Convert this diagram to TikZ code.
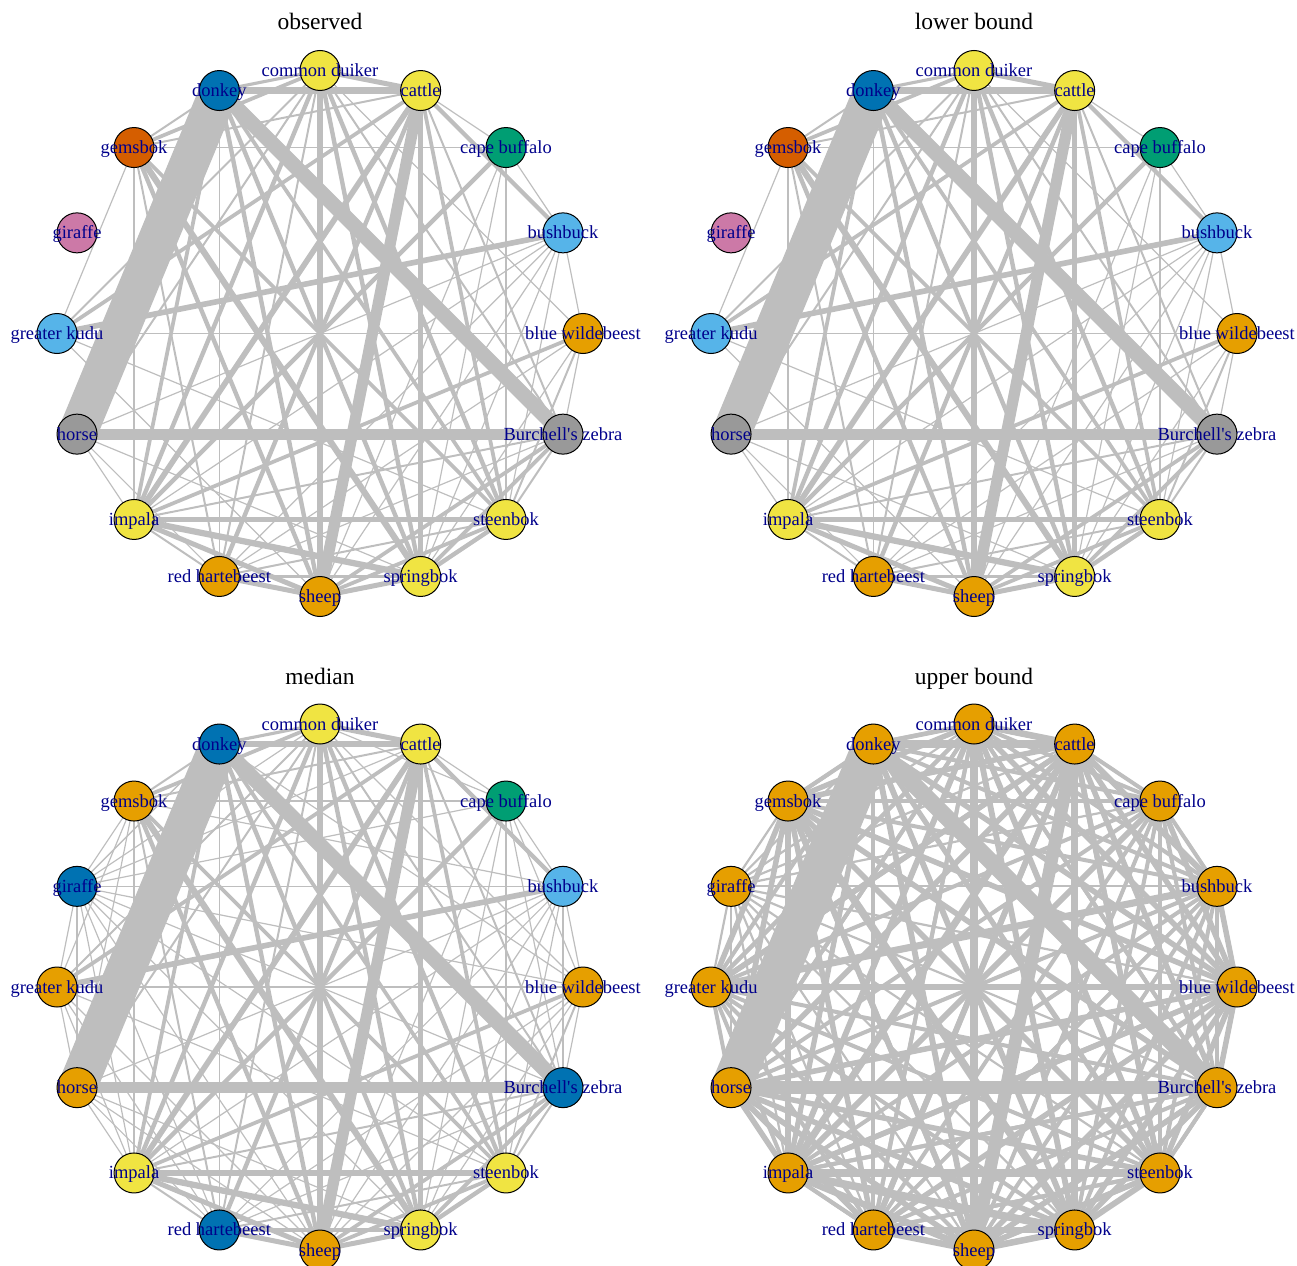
\documentclass[tikz,border=0pt]{standalone}
\usepackage{fontspec}
\setmainfont{Liberation Serif}
\definecolor{edgegray}{HTML}{BEBEBE}
\definecolor{cO}{HTML}{E69F00}
\definecolor{cS}{HTML}{56B4E9}
\definecolor{cG}{HTML}{009E73}
\definecolor{cY}{HTML}{F0E442}
\definecolor{cB}{HTML}{0072B2}
\definecolor{cV}{HTML}{D55E00}
\definecolor{cP}{HTML}{CC79A7}
\definecolor{cR}{HTML}{999999}
\definecolor{labblue}{HTML}{00008B}
\pgfdeclarelayer{bg}
\pgfsetlayers{bg,main}
\newcommand\spname[1]{\ifcase#1 blue wildebeest\or bushbuck\or cape buffalo\or cattle\or common duiker\or donkey\or gemsbok\or giraffe\or greater kudu\or horse\or impala\or red hartebeest\or sheep\or springbok\or steenbok\or Burchell\textquotesingle s zebra\fi}
\newcommand\obsedges{5/9/31, 5/15/12, 9/15/9, 3/12/9,
3/5/5, 3/4/4, 4/5/2.5, 4/12/4.5, 3/13/4.5, 10/14/4.5, 10/13/5, 12/13/4, 10/12/4, 11/12/4, 1/8/4.5, 6/13/5, 5/13/3.5, 5/12/3.5, 4/10/3.5, 4/13/3.5, 3/10/4.5, 3/11/3.5, 2/10/3.5, 1/3/3.5, 4/14/3.5, 5/14/3, 6/12/3.5, 3/8/3, 4/8/2, 13/15/3, 14/15/2, 0/14/2, 0/10/3, 0/11/1.2, 0/15/1.2, 0/1/1.2, 1/2/1.2, 2/3/1.2, 1/14/1.2, 1/13/1.2, 1/12/1.2, 1/11/1.2, 1/10/1.2, 2/13/1.2, 2/12/1.2, 2/6/1.2, 0/8/1.5, 6/8/1.2, 6/10/2, 9/10/1.2, 9/13/1.2, 9/11/1.2, 11/13/3, 11/14/2, 12/14/3, 13/14/3.5, 10/11/2, 4/6/3, 5/6/2, 5/10/3, 5/11/1.2, 4/11/2, 4/15/2, 3/15/2, 3/14/3, 6/14/3, 8/14/1.2, 10/15/2, 12/15/3, 11/15/1.2, 0/4/1.2, 8/12/1.2, 1/9/1.2, 3/6/2, 6/11/2, 2/14/1.2, 0/13/1.2, 4/9/2}
\newcommand\medextra{7/0/1.2, 7/1/1.2, 7/2/1.2, 7/3/1.2, 7/4/1.2, 7/5/1.5, 7/6/1.2, 7/8/1.2, 7/9/1.2, 7/10/1.2, 7/11/1.2, 7/12/1.2, 7/13/1.2, 7/14/1.2, 7/15/1.2, 8/9/1.2, 8/10/1.2, 8/11/1.2, 9/12/1.2, 6/9/1.2, 0/5/1.2, 1/6/1.2, 2/4/1.2, 0/12/1.2, 2/15/1.2, 1/15/1.5, 0/2/1.2}
% #1 prefix, #2 cx, #3 cy, #4 colour list
\newcommand\pnodes[4]{%
  \foreach \col [count=\i from 0] in {#4} {
    \node[spnode, fill=\col] (#1-\i) at ({#2+263*cos(\i*22.5)},{#3-263*sin(\i*22.5)}) {};
  }
  \foreach \i in {0,...,15} {
    \node[splabel] (#1-l\i) at (#1-\i.center) {\spname{\i}};
  }
}
\newcommand\pedges[2]{%
  \begin{pgfonlayer}{bg}
  \foreach \a/\b/\w in #2 {
    \pgfmathsetmacro\ww{\w>=2.5 ? \w*1.25 : \w}
    \draw[edgeline, line width={\ww*1pt}] (#1-\a.center) -- (#1-\b.center);
  }
  \end{pgfonlayer}
}
\begin{document}
\begin{tikzpicture}[x=1pt,y=-1pt,
  spnode/.style={circle, draw=black, line width=1pt, minimum size=40pt, inner sep=0pt},
  splabel/.style={text=labblue, font=\fontsize{18.5}{20}\selectfont, inner sep=0pt, anchor=base, yshift=-6pt},
  edgeline/.style={draw=edgegray, line cap=round},
  ptitle/.style={font=\fontsize{23.5}{26}\selectfont, inner sep=0pt, anchor=base}]
\useasboundingbox (0,0) rectangle (1297,1265);

\node[ptitle] (t1) at (320,29.5) {observed};
\node[ptitle] (t2) at (974,29.5) {lower bound};
\node[ptitle] (t3) at (320,684) {median};
\node[ptitle] (t4) at (974,684) {upper bound};

% observed
\pnodes{A}{320}{333.5}{cO,cS,cG,cY,cY,cB,cV,cP,cS,cR,cY,cO,cO,cY,cY,cR}
\pedges{A}{\obsedges}

% lower bound
\pnodes{B}{974}{333.5}{cO,cS,cG,cY,cY,cB,cV,cP,cS,cR,cY,cO,cO,cY,cY,cR}
\pedges{B}{\obsedges}

% median
\pnodes{C}{320}{987}{cO,cS,cG,cY,cY,cB,cO,cB,cO,cO,cY,cB,cO,cY,cY,cB}
\pedges{C}{\obsedges}
\pedges{C}{\medextra}

% upper bound
\pnodes{D}{974}{987}{cO,cO,cO,cO,cO,cO,cO,cO,cO,cO,cO,cO,cO,cO,cO,cO}
\begin{pgfonlayer}{bg}
\foreach \a in {0,...,14} {
  \pgfmathtruncatemacro\s{\a+1}
  \foreach \b in {\s,...,15} {
    \pgfmathsetmacro\ww{(\a==7 || \b==7) ? 2.2 : (mod(\a*7+\b*3,3)==0 ? 5.5 : 4)}
    \draw[edgeline, line width={\ww*1pt}] (D-\a.center) -- (D-\b.center);
  }
}
\foreach \a/\b/\w in \obsedges {
  \pgfmathsetmacro\ww{\w*1.25+1.5}
  \draw[edgeline, line width={\ww*1pt}] (D-\a.center) -- (D-\b.center);
}
\end{pgfonlayer}
\end{tikzpicture}
\end{document}
